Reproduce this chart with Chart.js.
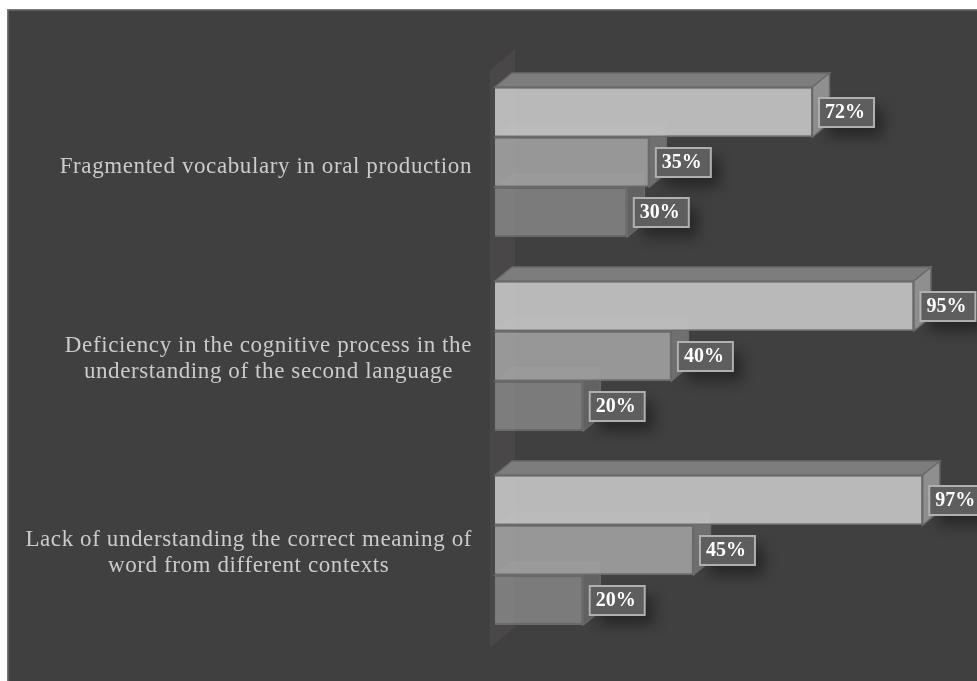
<!DOCTYPE html>
<html>
<head>
<meta charset="utf-8">
<title>Vocabulary difficulties</title>
<script src="https://cdn.jsdelivr.net/npm/chart.js@4"></script>
<style>
    html, body { margin: 0; padding: 0; background: #fff; overflow: hidden; }
    #box { position: absolute; left: 0; top: 0; width: 977px; height: 681px; }
</style>
</head>
<body>
<div id="box"><canvas id="chart"></canvas></div>
<script>
let categories = [
    ["Fragmented vocabulary in oral production"],
    ["Deficiency in the cognitive process in the", "understanding of the second language"],
    ["Lack of understanding the correct meaning of", "word from different contexts"]
];
let seriesA = [72, 95, 97];
let seriesB = [35, 40, 45];
let seriesC = [30, 20, 20];

let frontColors = ["#b9b9b9", "#979797", "#7b7b7b"];
let topColors = ["#7d7d7d", "#747474", "#666666"];
let sideColors = ["#8f8f8f", "#707070", "#626262"];

const depthX = 17;
const depthY = 14;

function fillPoly(ctx, points, fill, stroke) {
    ctx.beginPath();
    points.forEach((p, i) => i ? ctx.lineTo(p[0], p[1]) : ctx.moveTo(p[0], p[1]));
    ctx.closePath();
    ctx.fillStyle = fill;
    ctx.fill();
    if (stroke) {
        ctx.strokeStyle = stroke;
        ctx.lineWidth = 1.5;
        ctx.stroke();
    }
}

/* PANEL, WALL AND BAR DEPTH */
let depthPlugin = {
    id: "depth",
    beforeDatasetsDraw(chart) {
        let ctx = chart.ctx;
        let x0 = chart.scales.x.getPixelForValue(0);
        let area = chart.chartArea;

        ctx.save();
        // back wall the bars stand against
        fillPoly(ctx, [
            [x0 - 5, area.top + 5],
            [x0 + 20, area.top - 16],
            [x0 + 20, area.bottom - 20],
            [x0 - 5, area.bottom + 1]
        ], "#4a4749");

        chart.data.datasets.forEach((ds, d) => {
            chart.getDatasetMeta(d).data.forEach(bar => {
                let top = bar.y - bar.height / 2;
                let bottom = bar.y + bar.height / 2;
                fillPoly(ctx, [
                    [x0, top], [x0 + depthX, top - depthY],
                    [bar.x + depthX, top - depthY], [bar.x, top]
                ], topColors[d], "#6a6a6a");
                fillPoly(ctx, [
                    [bar.x, top], [bar.x + depthX, top - depthY],
                    [bar.x + depthX, bottom - depthY], [bar.x, bottom]
                ], sideColors[d], "#6a6a6a");
            });
        });
        ctx.restore();
    },
    afterDatasetsDraw(chart) {
        let ctx = chart.ctx;
        let x0 = chart.scales.x.getPixelForValue(0);

        ctx.save();
        chart.data.datasets.forEach((ds, d) => {
            chart.getDatasetMeta(d).data.forEach(bar => {
                let top = bar.y - bar.height / 2;
                let bottom = bar.y + bar.height / 2;
                // wall showing faintly through the front faces
                fillPoly(ctx, [[x0 + 1, top + 1], [x0 + 20, top + 1], [x0 + 20, bottom - 1], [x0 + 1, bottom - 1]],
                    "rgba(255,255,255,0.015)");
                // lower bars' top faces showing through the bar above
                if (d > 0) {
                    fillPoly(ctx, [
                        [x0 + 1, top - 1], [x0 + depthX, top - depthY],
                        [bar.x + depthX, top - depthY], [bar.x + depthX, top - 3], [bar.x + 3, top - 1]
                    ], "rgba(255,255,255,0.03)");
                }
            });
        });
        ctx.restore();
    }
};

/* VALUE BOXES AND CATEGORY TEXT */
let labelPlugin = {
    id: "labels",
    beforeDraw(chart) {
        let ctx = chart.ctx;
        ctx.save();
        ctx.fillStyle = "#404040";
        ctx.fillRect(7, 9, chart.width - 7, chart.height - 9);
        ctx.fillStyle = "#7a7a7a";
        ctx.fillRect(7, 9, chart.width - 7, 1.5);
        ctx.fillRect(7, 9, 1.5, chart.height - 9);
        ctx.restore();
    },
    afterDraw(chart) {
        let ctx = chart.ctx;
        let yScale = chart.scales.y;

        ctx.save();
        ctx.font = "23px 'Liberation Serif'";
        ctx.letterSpacing = "0.6px";
        ctx.fillStyle = "#cbcbcb";
        ctx.textAlign = "center";
        ctx.textBaseline = "middle";
        categories.forEach((lines, i) => {
            let widest = Math.max(...lines.map(t => ctx.measureText(t).width));
            let cx = 472 - widest / 2;
            // single lines sit a little lower than the two-line blocks
            let y = yScale.getPixelForTick(i) + (lines.length > 1 ? -10 : 5);
            lines.forEach((t, n) => ctx.fillText(t, cx, y + n * 26));
        });
        ctx.restore();

        chart.data.datasets.forEach((ds, d) => {
            chart.getDatasetMeta(d).data.forEach((bar, i) => {
                let w = 55, h = 29;
                let x = bar.x + 6.5, y = bar.y - h / 2 + 0.5;

                ctx.save();
                // soft shadow under the value box
                ctx.shadowColor = "rgba(0,0,0,0.4)";
                ctx.shadowBlur = 14;
                ctx.shadowOffsetX = 9;
                ctx.shadowOffsetY = 10;
                ctx.fillStyle = "#404040";
                ctx.fillRect(x, y, w, h);
                ctx.restore();

                ctx.save();
                ctx.fillStyle = "rgba(255,255,255,0.16)";
                ctx.fillRect(x, y, w, h);
                ctx.strokeStyle = "#b0b0b0";
                ctx.lineWidth = 2;
                ctx.strokeRect(x, y, w, h);
                ctx.font = "bold 20px 'Liberation Serif'";
                ctx.letterSpacing = "0px";
                ctx.fillStyle = "#ffffff";
                ctx.textAlign = "center";
                ctx.textBaseline = "middle";
                ctx.fillText(ds.data[i] + "%", x + w / 2 - 1.5, bar.y + 1);
                ctx.restore();
            });
        });
    }
};

new Chart(document.getElementById("chart"), {
    type: "bar",
    data: {
        labels: categories,
        datasets: [seriesA, seriesB, seriesC].map((values, d) => ({
            label: "Series " + (d + 1),
            data: values,
            backgroundColor: frontColors[d],
            borderColor: "#6a6a6a",
            borderWidth: 1.5,
            barPercentage: 1,
            categoryPercentage: 150 / 194
        }))
    },
    options: {
        indexAxis: "y",
        responsive: true,
        maintainAspectRatio: false,
        animation: false,
        layout: { padding: { left: 0, right: 41, top: 65, bottom: 34 } },
        plugins: { legend: { display: false }, tooltip: { enabled: false } },
        scales: {
            x: { display: false, min: 0, max: 100 },
            y: {
                grid: { display: false },
                border: { display: false },
                ticks: { display: false },
                afterFit(scale) { scale.width = 495; }
            }
        }
    },
    plugins: [depthPlugin, labelPlugin]
});
</script>
</body>
</html>
